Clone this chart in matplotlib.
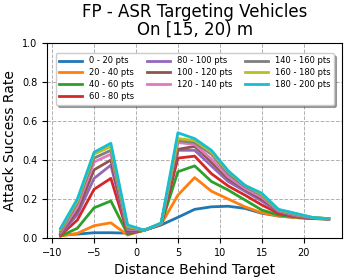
import numpy as np
import matplotlib
matplotlib.use("Agg")
import matplotlib.pyplot as plt

# distance behind target (m)
dist = [-9, -7, -5, -3, -1, 1, 3, 5, 7, 9, 11, 13, 15, 17, 19, 21, 23]

labels = ["0 - 20 pts", "20 - 40 pts", "40 - 60 pts", "60 - 80 pts",
          "80 - 100 pts", "100 - 120 pts", "120 - 140 pts", "140 - 160 pts",
          "160 - 180 pts", "180 - 200 pts"]

asr_0_20    = [0.015, 0.020, 0.027, 0.027, 0.025, 0.040, 0.067, 0.106, 0.147, 0.160, 0.163, 0.152, 0.127, 0.113, 0.105, 0.100, 0.098]
asr_20_40   = [0.010, 0.024, 0.063, 0.078, 0.015, 0.040, 0.070, 0.220, 0.310, 0.240, 0.200, 0.160, 0.130, 0.113, 0.105, 0.100, 0.098]
asr_40_60   = [0.010, 0.050, 0.155, 0.190, 0.020, 0.040, 0.070, 0.340, 0.370, 0.290, 0.246, 0.195, 0.144, 0.118, 0.108, 0.100, 0.097]
asr_60_80   = [0.015, 0.092, 0.250, 0.306, 0.025, 0.040, 0.070, 0.410, 0.420, 0.330, 0.267, 0.220, 0.170, 0.127, 0.110, 0.100, 0.098]
asr_80_100  = [0.020, 0.120, 0.306, 0.374, 0.030, 0.040, 0.072, 0.450, 0.450, 0.370, 0.290, 0.240, 0.190, 0.135, 0.112, 0.102, 0.098]
asr_100_120 = [0.025, 0.140, 0.350, 0.400, 0.035, 0.040, 0.072, 0.455, 0.470, 0.390, 0.305, 0.250, 0.200, 0.138, 0.115, 0.103, 0.098]
asr_120_140 = [0.030, 0.160, 0.390, 0.430, 0.045, 0.040, 0.074, 0.490, 0.480, 0.405, 0.315, 0.255, 0.210, 0.140, 0.118, 0.104, 0.098]
asr_140_160 = [0.035, 0.180, 0.410, 0.450, 0.050, 0.040, 0.075, 0.500, 0.490, 0.430, 0.330, 0.265, 0.220, 0.143, 0.122, 0.105, 0.099]
asr_160_180 = [0.045, 0.190, 0.430, 0.470, 0.060, 0.040, 0.076, 0.510, 0.500, 0.440, 0.340, 0.270, 0.225, 0.145, 0.125, 0.106, 0.099]
asr_180_200 = [0.050, 0.200, 0.440, 0.486, 0.067, 0.040, 0.077, 0.540, 0.510, 0.450, 0.345, 0.270, 0.230, 0.147, 0.127, 0.106, 0.099]

series = [asr_0_20, asr_20_40, asr_40_60, asr_60_80, asr_80_100,
          asr_100_120, asr_120_140, asr_140_160, asr_160_180, asr_180_200]

fig = plt.figure(figsize=(3.52, 2.8), dpi=100)
ax = fig.add_axes([0.134, 0.15, 0.838, 0.696])

for vals, lab in zip(series, labels):
    ax.plot(dist, vals, linewidth=2, label=lab)

ax.set_ylim(0, 1)
ax.set_xticks([-10, -5, 0, 5, 10, 15, 20])
ax.set_yticks([0.0, 0.2, 0.4, 0.6, 0.8, 1.0])
ax.tick_params(labelsize=7)
ax.grid(True, linestyle="--", color="#b0b0b0", linewidth=0.7)
ax.set_xlabel("Distance Behind Target", fontsize=10)
ax.set_ylabel("Attack Success Rate", fontsize=10)
ax.set_title("FP - ASR Targeting Vehicles\nOn [15, 20) m", fontsize=12, linespacing=1.0)
ax.legend(ncol=3, loc="upper center", fontsize=6, shadow=True, fancybox=True,
          bbox_to_anchor=(0.5, 0.97), handlelength=2.8, columnspacing=1.5,
          labelspacing=0.35)

fig.savefig("out.png", dpi=100)
